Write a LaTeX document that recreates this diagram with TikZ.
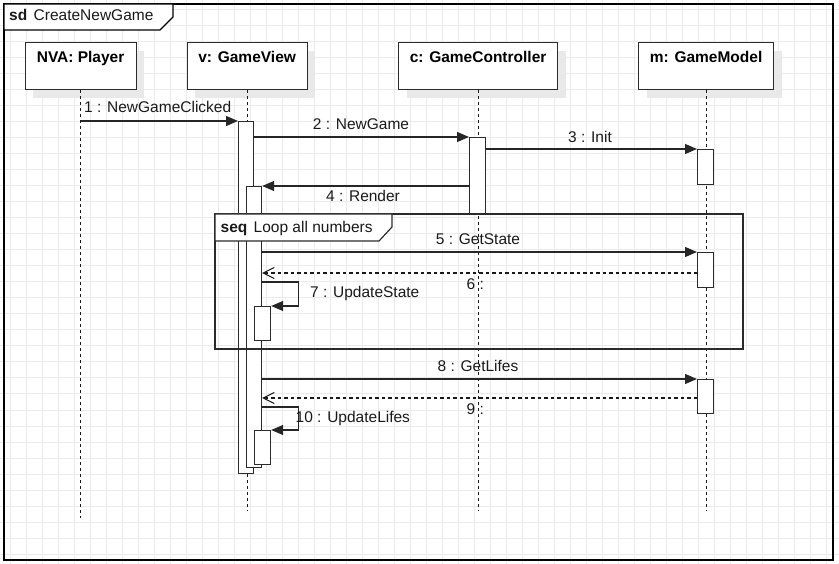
\documentclass[tikz,border=0pt]{standalone}
\usepackage{fontspec}
\setmainfont{Liberation Sans}
\usetikzlibrary{arrows.meta,shadows}
\definecolor{gridc}{HTML}{EBEBEB}
\definecolor{shadowc}{HTML}{E9E9E9}
\definecolor{linec}{HTML}{2B2B2B}
\tikzset{
  lifebox/.style={draw=linec, line width=1.2pt, fill=white, inner sep=0pt, anchor=north west,
    drop shadow={shadow xshift=8pt, shadow yshift=-8pt, fill=shadowc, opacity=1}},
  ttl/.style={font=\fontsize{15.5}{18}\selectfont\bfseries, inner sep=0pt, anchor=base},
  actbox/.style={draw=linec, line width=1.2pt, fill=white, inner sep=0pt, anchor=north west, minimum width=16pt},
  lifeline/.style={draw=black!90, line width=1.1pt, dash pattern=on 3pt off 3pt},
  msg/.style={draw=black!85, line width=1.2pt, -{Triangle[length=12pt,width=10pt]}},
  ret/.style={draw=black!90, line width=1.1pt, dash pattern=on 3.5pt off 3pt, -{Straight Barb[length=11pt,width=11pt,line width=1pt]}},
  lbl/.style={font=\fontsize{15.5}{18}\selectfont, inner sep=0pt, text=black!90},
  framec/.style={draw=black, line width=1.3pt},
  frameh/.style={draw=linec, line width=1.2pt, fill=white}
}
\begin{document}
\begin{tikzpicture}[x=1pt, y=-1pt]
\useasboundingbox (0,0) rectangle (839,564);
% background grid
\foreach \i in {0,...,51} \draw[gridc, line width=1pt] (10+16*\i,0) -- (10+16*\i,564);
\foreach \j in {0,...,34} \draw[gridc, line width=1pt] (0,10+16*\j) -- (839,10+16*\j);

% outer frame
\draw[framec] (4,4) rectangle (833,560);
\draw[frameh, draw=black] (4,4) -- (173,4) -- (173,17) -- (160,30) -- (4,30) -- cycle;
\node[lbl, anchor=base west] (sdk) at (9,21) {\textbf{sd}};
\node[lbl, anchor=base west] (sdn) at (33.5,21) {CreateNewGame};

% lifeline heads
\node[lifebox, minimum width=111pt, minimum height=47pt] (player) at (24.5,42) {};
\node[lifebox, minimum width=120pt, minimum height=47pt] (view) at (186.5,42) {};
\node[lifebox, minimum width=159pt, minimum height=47pt] (ctrl) at (398,42) {};
\node[lifebox, minimum width=135pt, minimum height=47pt] (model) at (638,42) {};
\node[ttl] (tplayer) at (player.north |- 0,63) {NVA: Player};
\node[ttl] (tview) at (view.north |- 0,63) {v: GameView};
\node[ttl] (tctrl) at (ctrl.north |- 0,63) {c: GameController};
\node[ttl] (tmodel) at (model.north |- 0,63) {m: GameModel};

% lifelines
\coordinate (endp) at (player.south |- 0,518);
\coordinate (endv) at (view.south |- 0,511);
\coordinate (endc) at (ctrl.south |- 0,511);
\coordinate (endm) at (model.south |- 0,511);
\draw[lifeline] (player.south) -- (endp);
\draw[lifeline] (view.south) -- (endv);
\draw[lifeline] (ctrl.south) -- (endc);
\draw[lifeline] (model.south) -- (endm);

% activations
\node[actbox, minimum width=15pt, minimum height=352pt] (vact1) at (238,121) {};
\node[actbox, minimum width=15pt, minimum height=281pt] (vact2) at (246,186) {};
\node[actbox, minimum height=34pt] (vact7) at (254,306) {};
\node[actbox, minimum height=34pt] (vact10) at (254,430) {};
\node[actbox, minimum height=77pt] (cact) at (469,137) {};
\node[actbox, minimum height=35pt] (mact3) at (697,149) {};
\node[actbox, minimum height=35pt] (mact5) at (697,252) {};
\node[actbox, minimum height=34pt] (mact8) at (697,379) {};

% loop frame
\draw[framec, draw=linec] (215,214) rectangle (743,349);
\draw[frameh] (215,214) -- (392,214) -- (392,227) -- (379,241) -- (215,241) -- cycle;
\node[lbl, anchor=base west] (seqk) at (220.5,232.5) {\textbf{seq}};
\node[lbl, anchor=base west] (seqn) at (253.5,232.5) {Loop all numbers};

% messages
\draw[msg] (player.south |- vact1.north) -- (vact1.north west);
\node[lbl, anchor=base west] (l1) at (84,112.5) {1 : NewGameClicked};

\draw[msg] (vact1.east |- cact.north) -- (cact.north west);
\node[lbl, anchor=base] (l2) at (361,130) {2 : NewGame};

\draw[msg] (cact.east |- mact3.north) -- (mact3.north west);
\node[lbl, anchor=base] (l3) at (590,142.5) {3 : Init};

\draw[msg] (cact.west |- vact2.north) -- (vact2.north east);
\node[lbl, anchor=base] (l4) at (363,202) {4 : Render};

\draw[msg] (vact2.east |- mact5.north) -- (mact5.north west);
\node[lbl, anchor=base] (l5) at (478,244.5) {5 : GetState};

\coordinate (r6s) at ([yshift=-21pt]mact5.north west);
\draw[ret] (r6s) -- (vact2.east |- r6s);
\node[lbl, anchor=base west] (l6) at (466.5,290) {6 :};

\coordinate (s7) at ([yshift=-96pt]vact2.north east);
\draw[msg] (s7) -- ++(36,0) |- (vact7.north east);
\node[lbl, anchor=base west] (l7) at (310,297.5) {7 : UpdateState};

\draw[msg] (vact2.east |- mact8.north) -- (mact8.north west);
\node[lbl, anchor=base] (l8) at (478,371) {8 : GetLifes};

\coordinate (r9s) at ([yshift=-19pt]mact8.north west);
\draw[ret] (r9s) -- (vact2.east |- r9s);
\node[lbl, anchor=base west] (l9) at (466.5,414.5) {9 :};

\coordinate (s10) at ([yshift=-221pt]vact2.north east);
\draw[msg] (s10) -- ++(36,0) |- (vact10.north east);
\node[lbl, anchor=base west] (l10) at (295.5,422) {10 : UpdateLifes};
\end{tikzpicture}
\end{document}
